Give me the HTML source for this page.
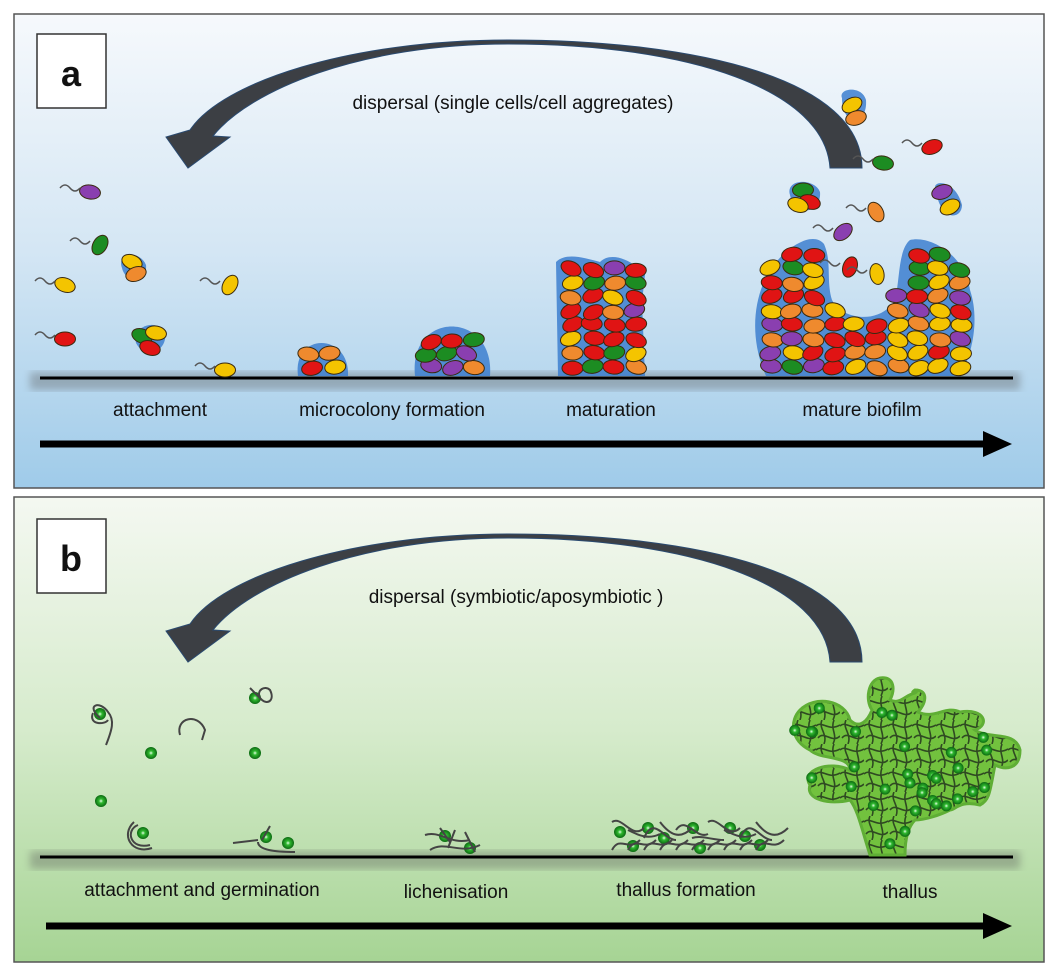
<!DOCTYPE html>
<html><head><meta charset="utf-8">
<style>
html,body{margin:0;padding:0;background:#fff;}
svg{display:block;}
text{font-family:"Liberation Sans",sans-serif;fill:#111;}
</style></head>
<body>
<svg id="s" width="1058" height="974" viewBox="0 0 1058 974" xmlns="http://www.w3.org/2000/svg">
<defs>
<linearGradient id="ga" x1="0" y1="0" x2="0" y2="1">
<stop offset="0" stop-color="#f6f9fc"/><stop offset="0.5" stop-color="#d4e6f4"/><stop offset="1" stop-color="#9fcbe9"/>
</linearGradient>
<linearGradient id="gb" x1="0" y1="0" x2="0" y2="1">
<stop offset="0" stop-color="#f4f8f1"/><stop offset="0.5" stop-color="#d6ebcc"/><stop offset="1" stop-color="#a6d494"/>
</linearGradient>
<filter id="bl"><feGaussianBlur stdDeviation="4"/></filter>
<radialGradient id="gd" cx="0.5" cy="0.5" r="0.5">
<stop offset="0" stop-color="#e8ffe8"/><stop offset="0.35" stop-color="#2fb82f"/><stop offset="1" stop-color="#0c6a12"/>
</radialGradient>
<pattern id="hy" width="24" height="24" patternUnits="userSpaceOnUse">
<rect width="24" height="24" fill="#72c23e"/>
<path d="M0,6 C6,0 12,12 24,5 M2,18 C8,10 16,24 24,16 M6,0 C2,8 12,14 8,24 M18,0 C14,10 22,14 17,24" stroke="#2f4a22" stroke-width="1.6" fill="none"/>
</pattern>
</defs>
<rect x="14" y="14" width="1030" height="474" fill="url(#ga)" stroke="#555" stroke-width="1.5"/>
<rect x="14" y="497" width="1030" height="465" fill="url(#gb)" stroke="#555" stroke-width="1.5"/>
<rect x="37" y="34" width="69" height="74" fill="#fff" stroke="#333" stroke-width="1.5"/>
<text x="71" y="86" font-size="36" font-weight="bold" text-anchor="middle">a</text>
<rect x="37" y="519" width="69" height="74" fill="#fff" stroke="#333" stroke-width="1.5"/>
<text x="71" y="571" font-size="36" font-weight="bold" text-anchor="middle">b</text>

<g id="arr"><path d="M862,168 C862,80 700,40 508,40 C350,40 222,82 190,130 L166,137 L188,168 L230,137 L213,136 C250,90 360,44 508,44 C690,44 825,90 830,168 Z" fill="#3c3f44" stroke="#2a4a70" stroke-width="1"/></g>
<use href="#arr" transform="translate(0,494)"/>
<text x="513" y="109" font-size="19" text-anchor="middle">dispersal (single cells/cell aggregates)</text>
<text x="516" y="603" font-size="19" text-anchor="middle">dispersal (symbiotic/aposymbiotic )</text>

<rect x="30" y="372" width="990" height="18" fill="#555" opacity="0.35" filter="url(#bl)"/>
<line x1="40" y1="378" x2="1013" y2="378" stroke="#000" stroke-width="3"/>
<rect x="30" y="851" width="990" height="18" fill="#555" opacity="0.35" filter="url(#bl)"/>
<line x1="40" y1="857" x2="1013" y2="857" stroke="#000" stroke-width="3"/>

<text x="160" y="416" font-size="19" text-anchor="middle">attachment</text>
<text x="392" y="416" font-size="19" text-anchor="middle">microcolony formation</text>
<text x="611" y="416" font-size="19" text-anchor="middle">maturation</text>
<text x="862" y="416" font-size="19" text-anchor="middle">mature biofilm</text>
<text x="202" y="896" font-size="19" text-anchor="middle">attachment and germination</text>
<text x="456" y="898" font-size="19" text-anchor="middle">lichenisation</text>
<text x="686" y="896" font-size="19" text-anchor="middle">thallus formation</text>
<text x="910" y="898" font-size="19" text-anchor="middle">thallus</text>

<line x1="40" y1="444" x2="985" y2="444" stroke="#000" stroke-width="7"/>
<polygon points="983,431 1012,444 983,457" fill="#000"/>
<line x1="46" y1="926" x2="985" y2="926" stroke="#000" stroke-width="7"/>
<polygon points="983,913 1012,926 983,939" fill="#000"/>

<path id="c1" d="M298,376 C292,332 350,332 348,376 Z" fill="#3d7fcf" opacity="0.85"/>
<path id="c2" d="M415,376 C408,310 495,310 490,376 Z" fill="#3d7fcf" opacity="0.85"/>
<path id="c3" d="M558,376 L556,262 C566,252 585,258 600,262 C612,250 635,262 645,275 L642,302 L645,376 Z" fill="#3d7fcf" opacity="0.85"/>
<path id="c4" d="M766,376 C750,340 752,300 770,270 C785,248 812,230 824,244 C832,262 826,280 832,300 C842,320 880,325 895,300 C900,280 898,250 910,240 C930,235 965,255 970,290 C980,320 972,355 960,376 Z" fill="#3d7fcf" opacity="0.85"/>
<path d="M136,343 C132,325 158,318 165,333 C168,350 146,362 136,343 Z" fill="#3d7fcf" opacity="0.85"/>
<path d="M122,268 C116,252 140,250 146,265 C148,280 126,285 122,268 Z" fill="#3d7fcf" opacity="0.85"/>
<path d="M790,195 C785,178 815,178 820,192 C822,212 795,220 790,195 Z" fill="#3d7fcf" opacity="0.85"/>
<path d="M842,98 C838,88 862,85 866,100 C868,126 842,128 842,98 Z" fill="#3d7fcf" opacity="0.85"/>
<path d="M936,190 C930,180 955,178 962,205 C962,220 940,222 936,190 Z" fill="#3d7fcf" opacity="0.85"/>
<g id="cells"></g>
<g id="flag" stroke="#555" stroke-width="1.5" fill="none"></g>

<path id="th" d="M870,855 C862,830 858,810 850,800 C830,805 805,800 810,785 C800,770 830,760 850,770 C850,755 820,760 810,750 C790,740 790,720 800,710 C815,695 845,700 850,720 C860,730 868,720 872,710 C865,700 868,680 880,678 C895,676 895,690 890,700 C900,705 905,695 915,693 C920,690 908,695 915,690 C930,690 925,705 918,712 C935,720 945,705 960,712 C985,708 990,725 975,730 C990,740 1015,730 1020,750 C1020,770 1005,770 995,765 C990,790 990,800 980,805 C960,800 955,810 950,810 C940,815 925,820 915,820 C905,830 905,850 905,855 Z" fill="url(#hy)" stroke="#5fae35" stroke-width="3"/>
<g id="dots"></g>
<g id="hyph" stroke="#444" stroke-width="2" fill="none"></g>
</svg>
<script>
(function(){
var NS="http://www.w3.org/2000/svg";
var seed=7;function r(){seed=(seed*16807)%2147483647;return seed/2147483647;}
var cols=["#f4c400","#e01414","#1c8c22","#8a3fb0","#ef8a2e","#f4c400","#e01414"];
var g=document.getElementById("cells");
function cell(x,y,a,c){var e=document.createElementNS(NS,"ellipse");e.setAttribute("cx",x);e.setAttribute("cy",y);e.setAttribute("rx",10.5);e.setAttribute("ry",7);e.setAttribute("fill",c||cols[Math.floor(r()*cols.length)]);e.setAttribute("stroke","#3a2a10");e.setAttribute("stroke-width","1");e.setAttribute("transform","rotate("+a+" "+x+" "+y+")");g.appendChild(e);}
function fill(id,step){var p=document.getElementById(id);var b=p.getBBox();var svg=document.getElementById("s");
for(var y=b.y+b.height-9;y>b.y+5;y-=step){for(var x=b.x+10+(Math.round(y)%2?6:0);x<b.x+b.width-8;x+=21){var pt=svg.createSVGPoint();pt.x=x;pt.y=y;var ok=true;
try{ok=p.isPointInFill(pt);}catch(e){}
if(ok)cell(x+(r()-0.5)*3,y+(r()-0.5)*3,(r()-0.5)*50);}}}
fill("c1",13);fill("c2",13);fill("c3",14);fill("c4",14);
var fl=document.getElementById("flag");
function free(x,y,c,a,tx,ty){cell(x,y,a,c);var p=document.createElementNS(NS,"path");p.setAttribute("d","M"+tx+","+ty+" q5,-6 10,0 t10,0");fl.appendChild(p);}
var F=[[90,192,"#8a3fb0",10],[100,245,"#1c8c22",-60],[65,285,"#f4c400",20],[230,285,"#f4c400",-60],[65,339,"#e01414",0],[225,370,"#f4c400",0],[932,147,"#e01414",-20],[883,163,"#1c8c22",10],[876,212,"#ef8a2e",60],[843,232,"#8a3fb0",-40],[850,267,"#e01414",-70],[877,274,"#f4c400",80]];
F.forEach(function(f){free(f[0],f[1],f[2],f[3],f[0]-30,f[1]-4);});
[[132,262,"#f4c400"],[136,274,"#ef8a2e"],[142,336,"#1c8c22"],[156,333,"#f4c400"],[150,348,"#e01414"],[803,190,"#1c8c22"],[810,202,"#e01414"],[798,205,"#f4c400"],[852,105,"#f4c400"],[856,118,"#ef8a2e"],[942,192,"#8a3fb0"],[950,207,"#f4c400"]].forEach(function(c){cell(c[0],c[1],(r()-0.5)*60,c[2]);});
var dg=document.getElementById("dots");
function dot(x,y,rad,par){var c=document.createElementNS(NS,"circle");c.setAttribute("cx",x);c.setAttribute("cy",y);c.setAttribute("r",rad||5.5);c.setAttribute("fill","url(#gd)");(par||dg).appendChild(c);}
var th=document.getElementById("th"),svg=document.getElementById("s"),bb=th.getBBox();
for(var i=0;i<300;i++){var x=bb.x+r()*bb.width,y=bb.y+r()*bb.height;var pt=svg.createSVGPoint();pt.x=x;pt.y=y;var ok=true;try{ok=th.isPointInFill(pt);}catch(e){} if(ok&&i%5==0)dot(x,y);}
var hy=document.getElementById("hyph");
function hp(d){var p=document.createElementNS(NS,"path");p.setAttribute("d",d);hy.appendChild(p);}
hp("M100,718 C85,705 100,700 108,712 C115,720 112,730 106,745");hp("M93,713 C88,725 105,725 108,720");
hp("M180,735 C175,718 198,712 205,730 L202,740");
hp("M250,688 L262,700 C268,705 275,700 270,690 C265,685 256,690 260,698");
hp("M138,825 C125,830 130,850 150,845");hp("M134,822 C120,835 132,855 152,848");
hp("M233,843 L258,840 M262,840 L270,826 M258,842 C258,850 275,852 295,852");
hp("M425,835 C440,830 450,845 470,840 M430,850 C445,840 460,855 480,845 M440,828 L450,842 M455,830 L448,848 M465,832 L475,852");
for(var k=0;k<10;k++){var x0=612+k*16;hp("M"+x0+","+(822+(k%3)*8)+" C"+(x0+10)+","+(815+(k%2)*20)+" "+(x0+20)+","+(840)+" "+(x0+32)+","+(828+(k%3)*6));hp("M"+x0+","+(850)+" C"+(x0+8)+","+(835)+" "+(x0+16)+","+(852)+" "+(x0+28)+","+(840));}
[[100,714],[151,753],[101,801],[255,698],[255,753],[143,833],[266,837],[288,843],[445,836],[470,848],[620,832],[633,846],[648,828],[664,838],[693,828],[700,848],[730,828],[745,836],[760,845]].forEach(function(d){dot(d[0],d[1],6);});
})();
</script>
</body></html>
